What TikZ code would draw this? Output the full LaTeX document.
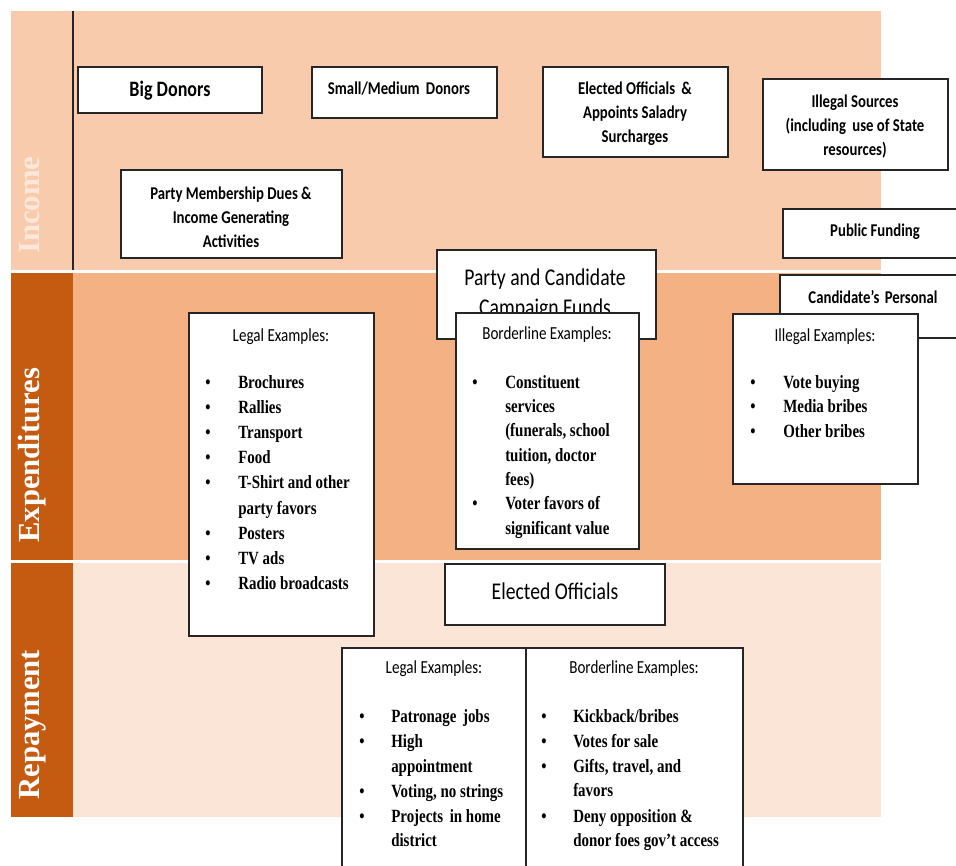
\documentclass[tikz,border=0pt]{standalone}
\usepackage{fontspec}
\setmainfont{Liberation Serif}
\newfontfamily\labfont[FakeStretch=0.82]{Carlito}
\newfontfamily\lstfont[FakeStretch=0.8]{Liberation Serif}
\usetikzlibrary{fit}
\definecolor{incbg}{HTML}{F8CBAD}
\definecolor{expbg}{HTML}{F4B183}
\definecolor{repbg}{HTML}{FBE5D6}
\definecolor{colbg}{HTML}{C55A11}
\definecolor{edge}{HTML}{262626}
\tikzset{
 box/.style={draw=edge, line width=0.9pt, fill=white, inner sep=0pt},
 lab/.style={font=\labfont\bfseries\fontsize{13.5}{18}\selectfont, align=center, inner sep=0pt},
 labbig/.style={font=\labfont\fontsize{18}{22.5}\selectfont, inner sep=0pt},
 hdr/.style={font=\labfont\fontsize{13.8}{16}\selectfont, inner sep=0pt, anchor=base},
 lst/.style={font=\lstfont\bfseries\fontsize{14}{18}\selectfont, inner sep=0pt},
 side/.style={font=\bfseries\fontsize{23}{26}\selectfont, rotate=90, anchor=base west, inner sep=0pt, text=white},
}
\newcommand\mylist[4]{%
 \foreach \yy/\bb/\tx [count=\ii] in {#4} {
   \node[lst, anchor=base west] (#1t\ii) at (#3,\yy) {\tx};
   \ifnum\bb=1 \node[lst, anchor=base] (#1b\ii) at (#2,\yy) {\textbullet};\fi
 }}
\begin{document}
\begin{tikzpicture}[x=0.75pt,y=-0.75pt]
\useasboundingbox (0,0) rectangle (956,865);
\clip (0,0) rectangle (956,865);
\fill[white] (0,0) rectangle (956,865);
% bands
\fill[incbg] (11,11) rectangle (881,270);
\fill[expbg] (11,272.5) rectangle (881,560);
\fill[repbg] (11,562.5) rectangle (881,817);
\fill[colbg] (11,272.5) rectangle (73,560);
\fill[colbg] (11,562.5) rectangle (73,817);
\draw[edge, line width=0.8pt] (73,11) -- (73,270);
% side labels
\node[side, text=white!55!incbg] (inc) at (39,254) {Income};
\node[side] (exps) at (39,543) {Expenditures};
\node[side] (reps) at (39,800) {Repayment};
% income boxes
\node[box, fit={(78,67)(262,113)}] (bigbox) {};
\node[lab, font=\labfont\bfseries\fontsize{16.5}{20}\selectfont] (bigtxt) at (170,91) {Big Donors};
\node[box, fit={(312,67)(497,118)}] (smallbox) {};
\node[lab] (smalltxt) at (399,89) {Small/Medium\hspace{0.35em}Donors};
\node[box, fit={(543,67)(728,157)}] (electbox) {};
\node[lab] (electtxt) at (635,114) {Elected Officials\hspace{0.35em}\&\\Appoints Saladry\\Surcharges};
\node[box, fit={(763,79)(948,170)}] (illsrcbox) {};
\node[lab] (illsrctxt) at (855,127) {Illegal Sources\\(including\hspace{0.35em}use of State\\resources)};
\node[box, fit={(121,170)(342,258)}] (duesbox) {};
\node[lab] (duestxt) at (231,217) {Party Membership Dues \&\\Income Generating\\Activities};
\node[box, fit={(783,209)(967,258)}] (pubbox) {};
\node[lab] (pubtxt) at (875,232) {Public Funding};
\node[box, fit={(437,250)(656,339)}] (fundbox) {};
\node[labbig, anchor=base] (fundtxta) at (545,285) {Party and Candidate};
\node[labbig, anchor=base] (fundtxtb) at (545,315) {Campaign Funds};
\node[box, fit={(780,275)(967,338)}] (persbox) {};
\node[lab] (perstxt) at (873,297) {Candidate’s\hspace{0.3em}Personal};
% expenditure boxes
\node[box, fit={(189,313)(374,636)}] (legexbox) {};
\node[hdr] (lehdr) at (281,341) {Legal Examples:};
\mylist{le}{208}{238}{388/1/Brochures, 413/1/Rallies, 438.5/1/Transport, 463.5/1/Food, 488.5/1/T-Shirt and other, 514/0/party favors, 539/1/Posters, 564/1/TV ads, 589.5/1/Radio broadcasts}
\node[box, fit={(456,313)(639,549)}] (bdexbox) {};
\node[hdr] (behdr) at (547,339) {Borderline Examples:};
\mylist{be}{475}{505}{388/1/Constituent, 412/0/services, 436.5/0/{(funerals, school}, 461/0/{tuition, doctor}, 485/0/fees), 509.5/1/Voter favors of, 534/0/significant value}
\node[box, fit={(733,314)(918,484)}] (ilexbox) {};
\node[hdr] (iehdr) at (825,341) {Illegal Examples:};
\mylist{ie}{753}{783}{388/1/Vote buying, 412.7/1/Media bribes, 437/1/Other bribes}
% repayment boxes
\node[box, fit={(445,564)(665,625)}] (eobox) {};
\node[labbig] (eotxt) at (555,591) {Elected Officials};
\node[box, fit={(342,648)(526,880)}] (legrepbox) {};
\node[box, fit={(526,648)(743,880)}] (bdrepbox) {};
\node[hdr] (lrhdr) at (434,673) {Legal Examples:};
\node[hdr] (brhdr) at (634,673) {Borderline Examples:};
\mylist{lr}{362}{391}{722/1/Patronage\hspace{0.35em}jobs, 747/1/High, 772/0/appointment, 797/1/{Voting, no strings}, 822/1/Projects\hspace{0.35em}in home, 846/0/district}
\mylist{br}{544}{573}{722/1/{Kickback/bribes}, 747/1/Votes for sale, 772.5/1/{Gifts, travel, and}, 796.5/0/favors, 822.5/1/Deny opposition \&, 846/0/{donor foes gov’t access}}
\end{tikzpicture}
\end{document}
